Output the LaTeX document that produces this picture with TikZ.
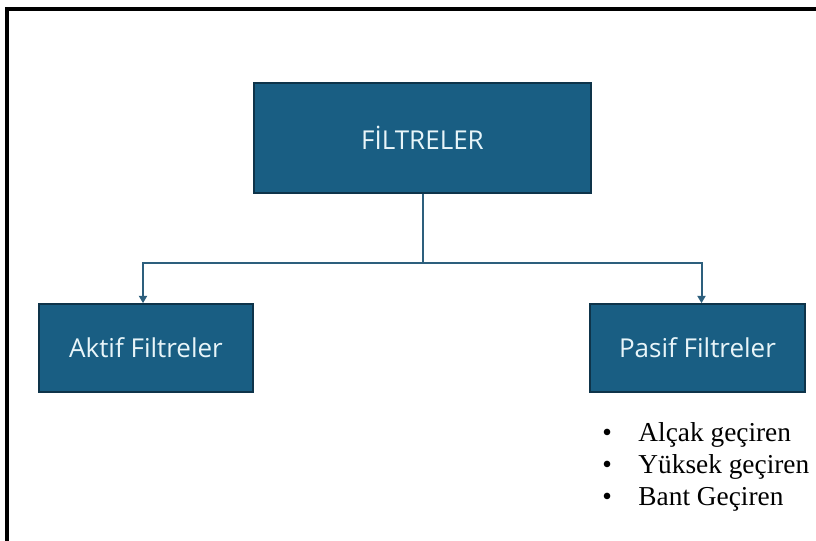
\documentclass[tikz,border=0pt]{standalone}
\usepackage{fontspec}
\setmainfont{Liberation Serif}
\newfontfamily\boxfont{Open Sans}
\definecolor{boxblue}{RGB}{25, 94, 131}
\definecolor{boxedge}{RGB}{14, 52, 74}
\definecolor{boxtext}{RGB}{232, 245, 249}
\definecolor{linkblue}{RGB}{45, 95, 125}
\usetikzlibrary{arrows.meta, positioning}

\begin{document}
\begin{tikzpicture}[x=0.75pt, y=-0.75pt,
    filterbox/.style={draw=boxedge, line width=1.2pt, fill=boxblue, text=boxtext,
      font=\boxfont\fontsize{19.5}{22}\selectfont, inner sep=0pt, align=center},
    link/.style={draw=linkblue, line width=1.5pt},
    linkarrow/.style={link, -{Triangle[length=5.5pt, width=6pt]}}]
  \useasboundingbox (0, 0) rectangle (816, 540);

  % Frame (top and left edges only)
  \draw[line width=3pt, line cap=rect] (816, 9) -- (6.5, 9) -- (6.5, 540);

  % Root box
  \node[filterbox, minimum width=337*0.75pt, minimum height=110*0.75pt] (root) at (422.5, 138) {FİLTRELER};

  % Child boxes
  \node[filterbox, minimum width=214*0.75pt, minimum height=88*0.75pt] (aktif) at (146, 348) {Aktif Filtreler};
  \node[filterbox, minimum width=215*0.75pt, minimum height=88*0.75pt] (pasif) at (697.5, 348) {Pasif Filtreler};

  % Connectors
  \coordinate (split) at (422.5, 263);
  \draw[link] (root.south) -- (split);
  \draw[linkarrow] (split) -| ([xshift=-3*0.75pt]aktif.north);
  \draw[linkarrow] (split) -| ([xshift=4*0.75pt]pasif.north);

  % Passive filter types
  \node[anchor=base west, font=\fontsize{20.5}{24}\selectfont, inner sep=0pt, align=left] (types) at (602, 441) {%
    \begin{tabular}[t]{@{}l@{\hspace{20pt}}l@{}}
      \textbullet & Alçak geçiren\\
      \textbullet & Yüksek geçiren\\
      \textbullet & Bant Geçiren
    \end{tabular}};
\end{tikzpicture}
\end{document}
